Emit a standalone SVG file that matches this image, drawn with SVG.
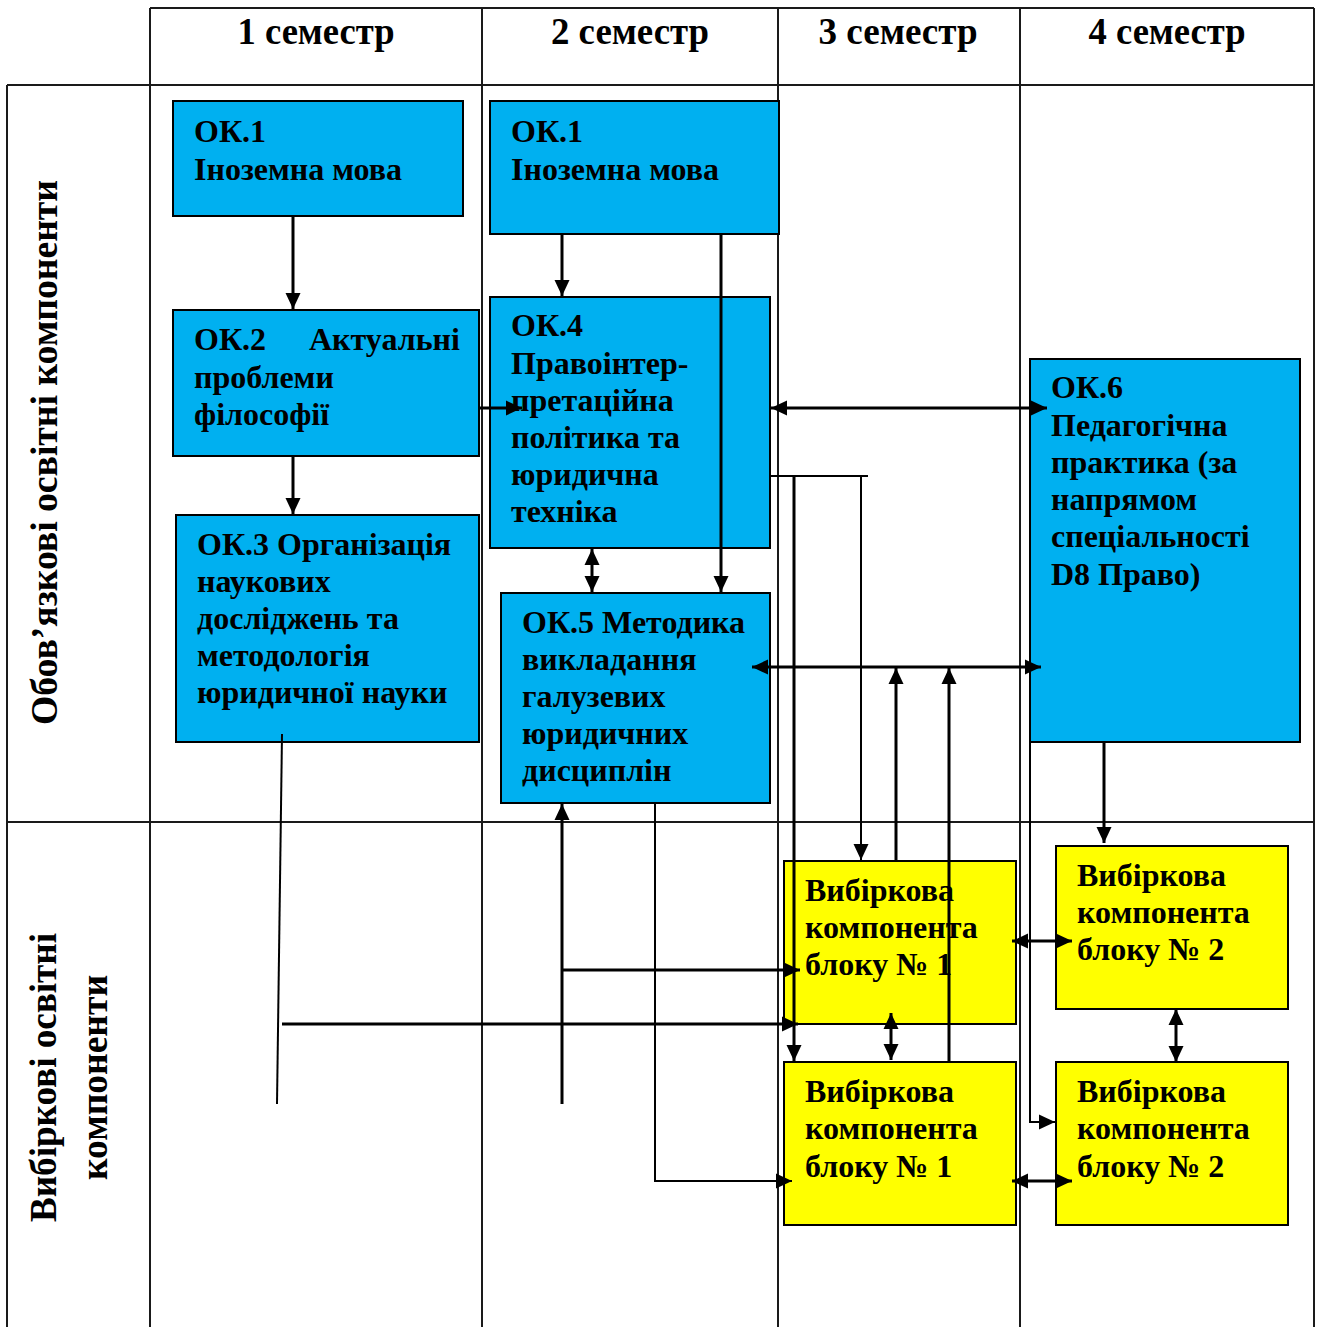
<svg xmlns="http://www.w3.org/2000/svg" width="1319" height="1327" viewBox="0 0 1319 1327">
<style>
.grid{stroke:#1a1a1a;stroke-width:2;fill:none}
.blue{fill:#00B0F0;stroke:#000;stroke-width:2}
.yel{fill:#FFFF00;stroke:#000;stroke-width:2}
.t{font-family:"Liberation Serif","Times New Roman",serif;font-weight:bold;font-size:32px;fill:#000}
.h{font-family:"Liberation Serif","Times New Roman",serif;font-weight:bold;font-size:38px;fill:#000;text-anchor:middle}
.r{font-family:"Liberation Serif","Times New Roman",serif;font-weight:bold;font-size:38px;fill:#000;text-anchor:middle}
.c{stroke:#000;stroke-width:3;fill:none}
.ct{stroke:#000;stroke-width:2;fill:none}
</style>
<defs>
<marker id="ah" viewBox="0 0 16 16" refX="16" refY="8" markerWidth="16" markerHeight="16" markerUnits="userSpaceOnUse" orient="auto-start-reverse">
<path d="M0,0.5 L16,8 L0,15.5 z" fill="#000"/>
</marker>
</defs>
<rect x="0" y="0" width="1319" height="1327" fill="#fff"/>
<g id="grid">
<line class="grid" x1="150" y1="8" x2="1314" y2="8"/>
<line class="grid" x1="7" y1="85" x2="1314" y2="85"/>
<line class="grid" x1="7" y1="822" x2="1314" y2="822"/>
<line class="grid" x1="7" y1="85" x2="7" y2="1327"/>
<line class="grid" x1="150" y1="8" x2="150" y2="1327"/>
<line class="grid" x1="482" y1="8" x2="482" y2="1327"/>
<line class="grid" x1="778" y1="8" x2="778" y2="1327"/>
<line class="grid" x1="1020" y1="8" x2="1020" y2="1327"/>
<line class="grid" x1="1314" y1="8" x2="1314" y2="1327"/>
</g>
<g id="headers">
<text class="h" x="316" y="44" textLength="157" lengthAdjust="spacingAndGlyphs">1 семестр</text>
<text class="h" x="630" y="44" textLength="158" lengthAdjust="spacingAndGlyphs">2 семестр</text>
<text class="h" x="898" y="44" textLength="159" lengthAdjust="spacingAndGlyphs">3 семестр</text>
<text class="h" x="1167" y="44" textLength="157" lengthAdjust="spacingAndGlyphs">4 семестр</text>
<text class="r" transform="translate(57,452.5) rotate(-90)" textLength="545" lengthAdjust="spacingAndGlyphs">Обов’язкові освітні компоненти</text>
<text class="r" transform="translate(56,1077.5) rotate(-90)" textLength="289" lengthAdjust="spacingAndGlyphs">Вибіркові освітні</text>
<text class="r" transform="translate(107,1077.5) rotate(-90)" textLength="205" lengthAdjust="spacingAndGlyphs">компоненти</text>
</g>
<g id="ok1a">
<rect class="blue" x="173" y="101" width="290" height="115"/>
<text class="t" x="194" y="142">ОК.1</text>
<text class="t" x="194" y="180">Іноземна мова</text>
</g>
<g id="ok1b">
<rect class="blue" x="490" y="101" width="289" height="133"/>
<text class="t" x="511" y="142">ОК.1</text>
<text class="t" x="511" y="180">Іноземна мова</text>
</g>
<g id="ok2">
<rect class="blue" x="173" y="310" width="306" height="146"/>
<text class="t" x="194" y="350">ОК.2</text>
<text class="t" x="309" y="350">Актуальні</text>
<text class="t" x="194" y="388">проблеми</text>
<text class="t" x="194" y="425">філософії</text>
</g>
<g id="ok3">
<rect class="blue" x="176" y="515" width="303" height="227"/>
<text class="t" x="197" y="555">ОК.3 Організація</text>
<text class="t" x="197" y="592">наукових</text>
<text class="t" x="197" y="629">досліджень та</text>
<text class="t" x="197" y="666">методологія</text>
<text class="t" x="197" y="703">юридичної науки</text>
</g>
<g id="ok4">
<rect class="blue" x="490" y="297" width="280" height="251"/>
<text class="t" x="511" y="336">ОК.4</text>
<text class="t" x="511" y="374">Правоінтер-</text>
<text class="t" x="511" y="411">претаційна</text>
<text class="t" x="511" y="448">політика та</text>
<text class="t" x="511" y="485">юридична</text>
<text class="t" x="511" y="522">техніка</text>
</g>
<g id="ok5">
<rect class="blue" x="501" y="593" width="269" height="210"/>
<text class="t" x="522" y="633">ОК.5 Методика</text>
<text class="t" x="522" y="670">викладання</text>
<text class="t" x="522" y="707">галузевих</text>
<text class="t" x="522" y="744">юридичних</text>
<text class="t" x="522" y="781">дисциплін</text>
</g>
<g id="ok6">
<rect class="blue" x="1030" y="359" width="270" height="383"/>
<text class="t" x="1051" y="398">ОК.6</text>
<text class="t" x="1051" y="436">Педагогічна</text>
<text class="t" x="1051" y="473">практика (за</text>
<text class="t" x="1051" y="510">напрямом</text>
<text class="t" x="1051" y="547">спеціальності</text>
<text class="t" x="1051" y="585">D8 Право)</text>
</g>
<g id="v1a">
<rect class="yel" x="784" y="861" width="232" height="163"/>
<text class="t" x="805" y="901">Вибіркова</text>
<text class="t" x="805" y="938">компонента</text>
<text class="t" x="805" y="975">блоку № 1</text>
</g>
<g id="v1b">
<rect class="yel" x="784" y="1062" width="232" height="163"/>
<text class="t" x="805" y="1102">Вибіркова</text>
<text class="t" x="805" y="1139">компонента</text>
<text class="t" x="805" y="1177">блоку № 1</text>
</g>
<g id="v2a">
<rect class="yel" x="1056" y="846" width="232" height="163"/>
<text class="t" x="1077" y="886">Вибіркова</text>
<text class="t" x="1077" y="923">компонента</text>
<text class="t" x="1077" y="960">блоку № 2</text>
</g>
<g id="v2b">
<rect class="yel" x="1056" y="1062" width="232" height="163"/>
<text class="t" x="1077" y="1102">Вибіркова</text>
<text class="t" x="1077" y="1139">компонента</text>
<text class="t" x="1077" y="1177">блоку № 2</text>
</g>
<g id="connectors">
<line class="c" x1="293" y1="217" x2="293" y2="309" marker-end="url(#ah)"/>
<line class="c" x1="293" y1="457" x2="293" y2="514" marker-end="url(#ah)"/>
<line class="c" x1="562" y1="235" x2="562" y2="296" marker-end="url(#ah)"/>
<line class="c" x1="721" y1="234" x2="721" y2="592" marker-end="url(#ah)"/>
<line class="c" x1="480" y1="408" x2="522" y2="408" marker-end="url(#ah)"/>
<line class="c" x1="771" y1="408" x2="1047" y2="408" marker-start="url(#ah)" marker-end="url(#ah)"/>
<line class="c" x1="592" y1="549" x2="592" y2="592" marker-start="url(#ah)" marker-end="url(#ah)"/>
<line class="c" x1="752" y1="667" x2="1041" y2="667" marker-start="url(#ah)" marker-end="url(#ah)"/>
<polyline class="ct" points="770,476 868,476"/>
<line class="c" x1="794" y1="476" x2="794" y2="1061" marker-end="url(#ah)"/>
<line class="ct" x1="861" y1="476" x2="861" y2="860" marker-end="url(#ah)"/>
<line class="c" x1="896" y1="861" x2="896" y2="668" marker-end="url(#ah)"/>
<line class="c" x1="949" y1="1062" x2="949" y2="668" marker-end="url(#ah)"/>
<line class="c" x1="891" y1="1013" x2="891" y2="1060" marker-start="url(#ah)" marker-end="url(#ah)"/>
<line class="c" x1="1012" y1="941" x2="1072" y2="941" marker-start="url(#ah)" marker-end="url(#ah)"/>
<line class="c" x1="1012" y1="1181" x2="1072" y2="1181" marker-start="url(#ah)" marker-end="url(#ah)"/>
<line class="c" x1="1176" y1="1009" x2="1176" y2="1062" marker-start="url(#ah)" marker-end="url(#ah)"/>
<line class="c" x1="1104" y1="743" x2="1104" y2="843" marker-end="url(#ah)"/>
<polyline class="ct" points="1030,742 1030,1122 1055,1122" marker-end="url(#ah)"/>
<polyline class="ct" points="655,803 655,1181 792,1181" marker-end="url(#ah)"/>
<line class="c" x1="562" y1="1104" x2="562" y2="804" marker-end="url(#ah)"/>
<line class="c" x1="562" y1="970" x2="800" y2="970" marker-end="url(#ah)"/>
<line class="ct" x1="282" y1="734" x2="277" y2="1104"/>
<line class="c" x1="282" y1="1024" x2="798" y2="1024" marker-end="url(#ah)"/>
</g>
</svg>
